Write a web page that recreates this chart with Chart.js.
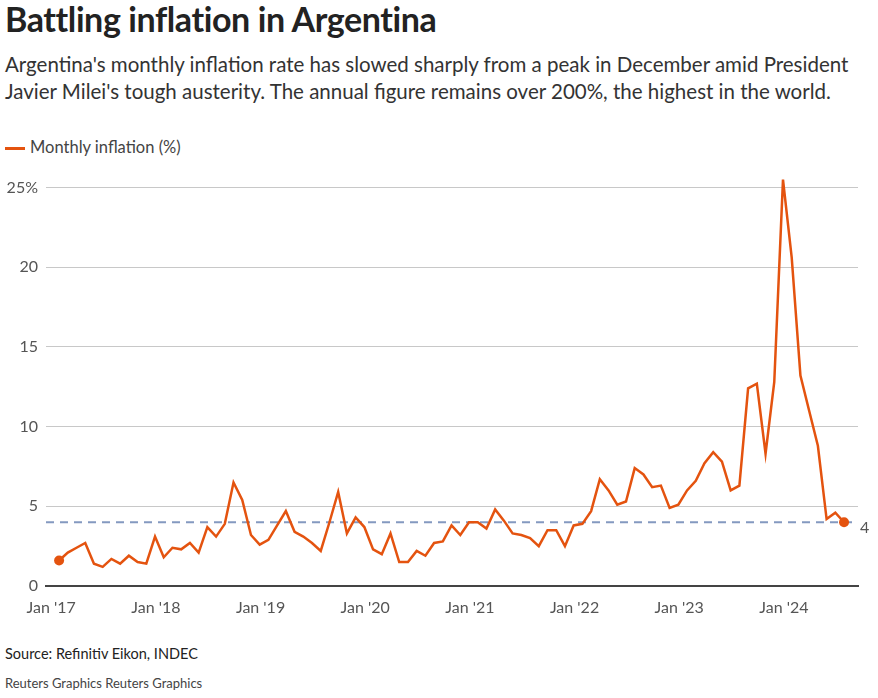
<!DOCTYPE html>
<html><head><meta charset="utf-8">
<script src="https://cdn.jsdelivr.net/npm/chart.js@4"></script>
<style>
body{margin:0;width:878px;height:698px;background:#fff;font-family:Lato,"Open Sans",sans-serif;color:#222;position:relative;overflow:hidden}
h1{position:absolute;left:5px;top:-2px;margin:0;font-size:34px;font-weight:bold;letter-spacing:-0.4px}
.sub{position:absolute;left:5px;top:51px;width:845px;font-size:20.5px;line-height:27px;color:#333}
.leg{position:absolute;left:5px;top:137px;font-size:16.5px;color:#444}
.leg span{display:inline-block;width:20px;height:3px;background:#e4530f;vertical-align:middle;margin-right:5px}
.src{position:absolute;left:5px;top:645px;font-size:14.5px;color:#222}
.cr{position:absolute;left:5px;top:675px;font-size:13px;color:#444}
#w{position:absolute;left:0;top:170px;width:878px;height:450px}
</style></head><body>
<h1>Battling inflation in Argentina</h1>
<div class="sub">Argentina's monthly inflation rate has slowed sharply from a peak in December amid President Javier Milei's tough austerity. The annual figure remains over 200%, the highest in the world.</div>
<div class="leg"><span></span>Monthly inflation (%)</div>
<div id="w"><canvas id="c"></canvas></div>
<div class="src">Source: Refinitiv Eikon, INDEC</div>
<div class="cr">Reuters Graphics Reuters Graphics</div>
<script>
const yearLabels=["Jan '17","Jan '18","Jan '19","Jan '20","Jan '21","Jan '22","Jan '23","Jan '24"];
const inflation=[1.6,2.1,2.4,2.7,1.4,1.2,1.7,1.4,1.9,1.5,1.4,3.1,
1.8,2.4,2.3,2.7,2.1,3.7,3.1,3.9,6.5,5.4,3.2,2.6,
2.9,3.8,4.7,3.4,3.1,2.7,2.2,4.0,5.9,3.3,4.3,3.7,
2.3,2.0,3.3,1.5,1.5,2.2,1.9,2.7,2.8,3.8,3.2,4.0,
4.0,3.6,4.8,4.1,3.3,3.2,3.0,2.5,3.5,3.5,2.5,3.8,
3.9,4.7,6.7,6.0,5.1,5.3,7.4,7.0,6.2,6.3,4.9,5.1,
6.0,6.6,7.7,8.4,7.8,6.0,6.3,12.4,12.7,8.3,12.8,25.5,
20.6,13.2,11.0,8.8,4.2,4.6,4.0];
const latest=inflation[inflation.length-1];
const XMIN=-1.5,XMAX=91.6;
const pts=inflation.map((v,i)=>({x:i,y:v}));
const n=pts.length;
const lastLabel={id:'ll',afterDatasetsDraw(ch){const c=ch.ctx,y=ch.scales.y.getPixelForValue(latest);c.save();c.font='16px Lato';c.fillStyle='#555';c.textBaseline='middle';c.fillText(String(latest),ch.chartArea.right+2,y+6);c.restore();}};
new Chart(document.getElementById('c'),{type:'line',
data:{datasets:[
{data:pts,borderColor:'#e4530f',borderWidth:2.5,tension:0,clip:false,order:1,
 pointRadius:c=>(c.dataIndex===0||c.dataIndex===n-1)?5:0,pointBackgroundColor:'#e4530f',pointBorderWidth:0,pointHoverRadius:0},
{data:[{x:XMIN,y:latest},{x:XMAX,y:latest}],borderColor:'#8499c0',borderWidth:2.2,borderDash:[8,6],pointRadius:0,order:2}
]},
options:{responsive:true,maintainAspectRatio:false,animation:false,
 layout:{padding:{top:16,right:20,left:0,bottom:0}},
 plugins:{legend:{display:false},tooltip:{enabled:false}},
 scales:{
  x:{type:'linear',min:XMIN,max:XMAX,afterFit:s=>{s.height=34},
   afterBuildTicks:s=>{s.ticks=yearLabels.map((l,i)=>({value:i*12-0.9}))},
   ticks:{autoSkip:false,maxRotation:0,color:'#555',font:{family:'Lato',size:16},padding:4,callback:(v,i)=>yearLabels[i]},
   grid:{display:false},border:{color:'#444',width:2}},
  y:{min:0,max:25,afterFit:s=>{s.width=46},
   ticks:{stepSize:5,color:'#555',font:{family:'Lato',size:16},padding:8,callback:v=>v===25?'25%':v},
   grid:{color:c=>c.tick.value===0?'rgba(0,0,0,0)':'#c8c8c8',drawTicks:false},border:{display:false}}
 }},
plugins:[lastLabel]});
</script></body></html>
